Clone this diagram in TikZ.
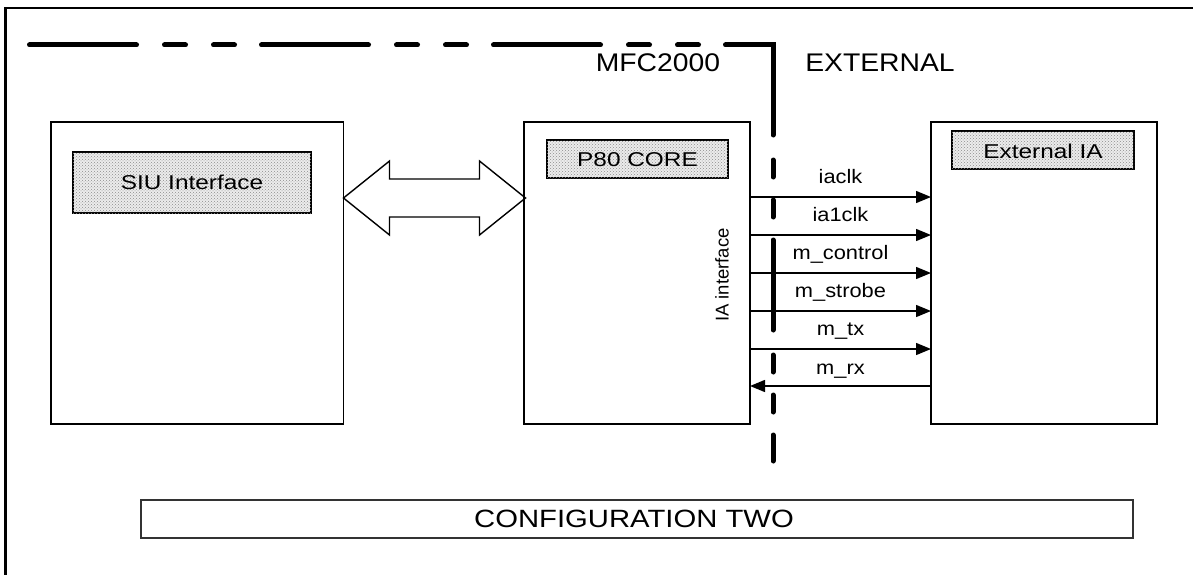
\documentclass[tikz,border=0pt]{standalone}
\usepackage{fontspec}
\setmainfont{Liberation Sans}
\usetikzlibrary{arrows.meta,calc,patterns}
\definecolor{subfill}{RGB}{236,236,236}
\begin{document}
\begin{tikzpicture}[x=1pt,y=-1pt,
  box/.style={draw=black, line width=1.4pt, anchor=north west, inner sep=0pt, outer sep=0pt},
  subbox/.style={box, fill=subfill, postaction={pattern=crosshatch dots, pattern color=black!45}},
  title/.style={anchor=base, inner sep=0pt, font=\fontsize{20}{24}\selectfont, xscale=1.22},
  sig/.style={line width=1.4pt, -{Triangle[length=15pt,width=12pt]}},
  siglabel/.style={anchor=base, inner sep=0pt, font=\fontsize{19.5}{23}\selectfont, xscale=1.12, pos=0.5},
  big/.style={anchor=base, inner sep=0pt, font=\fontsize{25.5}{30}\selectfont, xscale=1.11},
  bound/.style={line width=5pt, line cap=round, line join=miter}]
\useasboundingbox (0,0) rectangle (1193,575);
% frame
\draw[line width=2.2pt] (5.5,575) -- (5.5,8) -- (1193,8);
% boundary line
\draw[bound, dash pattern=on 107pt off 28pt on 21pt off 28pt on 21pt off 27pt] (29.5,45) -- (700,45);
\draw[bound] (725.5,45) -- (773,45) -- (773,135);
\draw[bound, dash pattern=on 17pt off 23pt on 17pt off 23pt on 90pt off 25pt] (773,160) -- (773,461);
\node[big] (mfc) at (658,72) {MFC2000};
\node[big] (extlbl) at (880,72) {EXTERNAL};
% blocks
\node[box, minimum width=292.5pt, minimum height=302pt] (siu) at (51,122) {};
\node[subbox, minimum width=238pt, minimum height=61pt] (siuI) at (73,152) {};
\node[title] (siuT) at (192,189) {SIU Interface};
\node[box, minimum width=226pt, minimum height=302pt] (p80) at (524,122) {};
\node[subbox, minimum width=181pt, minimum height=38pt] (p80I) at (547,140) {};
\node[title] (p80T) at (637.5,166) {P80 CORE};
\node[box, minimum width=226pt, minimum height=302pt] (ext) at (931,122) {};
\node[subbox, minimum width=182pt, minimum height=38pt] (extI) at (952,131) {};
\node[title] (extT) at (1043,158) {External IA};
\node[inner sep=0pt, rotate=90, font=\fontsize{18.5}{22}\selectfont] (iaif) at (722,275) {IA interface};
% double arrow between SIU and P80
\draw[line width=1.4pt, line join=miter] ($(siu.north east)+(0,76)$) coordinate (aL)
  -- ++(46,-37) -- ++(0,18) -- ++(90,0) -- ++(0,-18) -- ++(46,37)
  -- ++(-46,37) -- ++(0,-18) -- ++(-90,0) -- ++(0,18) -- cycle;
% signals
\foreach \dy/\t in {75/iaclk,113/ia1clk,151/m\_control,189/m\_strobe,227/m\_tx}
  \draw[sig] ($(p80.north east)+(0,\dy)$) -- ($(ext.north west)+(0,\dy)$)
    node[siglabel, yshift=14pt] {\t};
\draw[sig] ($(ext.north west)+(0,264)$) -- ($(p80.north east)+(0,264)$)
    node[siglabel, yshift=12pt] {m\_rx};
% configuration
\node[box, draw=black!80, line width=1.7pt, minimum width=992pt, minimum height=38pt] (cfg) at (141,500) {};
\node[anchor=base, inner sep=0pt, font=\fontsize{25}{30}\selectfont, xscale=1.17] (cfgT) at (634,527) {CONFIGURATION TWO};
\end{tikzpicture}
\end{document}
